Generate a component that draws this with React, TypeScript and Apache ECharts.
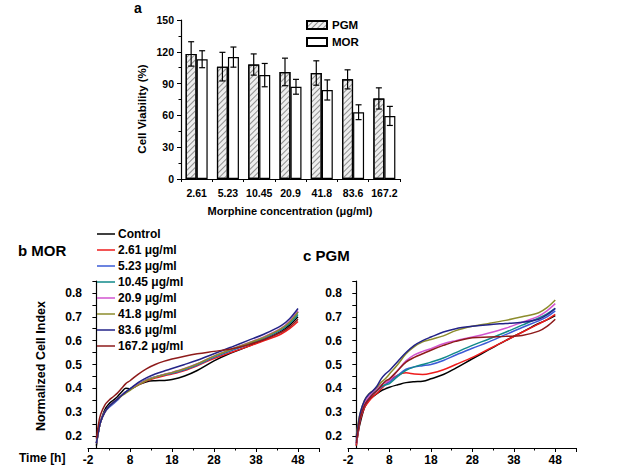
import React, { useEffect, useRef } from "react";
import * as echarts from "echarts";

// ---- Panel a data ----
const CONC = ["2.61", "5.23", "10.45", "20.9", "41.8", "83.6", "167.2"];
const PGM_VAL = [118, 106, 108, 101, 100, 94, 76];
const PGM_ERR = [11.5, 13.5, 10, 13, 11.5, 9, 10];
const MOR_VAL = [113, 115, 98, 87, 84, 63, 59.5];
const MOR_ERR = [8, 9.5, 11, 7, 9.5, 7, 9];
const BAR_TICKS = [0, 30, 60, 90, 120, 150];

// ---- Panels b, c data ----
const T = [0, 0.5, 1, 2, 3, 4, 5, 6, 7, 8, 10, 12, 14, 16, 18, 21, 24, 28, 32, 36, 40, 44, 46, 48];
const NAMES = ["Control", "2.61 μg/ml", "5.23 μg/ml", "10.45 μg/ml", "20.9 μg/ml", "41.8 μg/ml", "83.6 μg/ml", "167.2 μg/ml"];
const COLORS = ["#000000", "#ee1c1c", "#3b5bd6", "#118a8a", "#d255cf", "#8c8c2c", "#232388", "#8e1b1b"];

const MOR_CONTROL = [0.16, 0.22, 0.26, 0.31, 0.335, 0.35, 0.365, 0.385, 0.4, 0.398, 0.415, 0.428, 0.432, 0.433, 0.437, 0.452, 0.475, 0.515, 0.548, 0.575, 0.605, 0.64, 0.665, 0.7];
const MOR_261 = [0.17, 0.22, 0.26, 0.3, 0.325, 0.34, 0.355, 0.37, 0.385, 0.395, 0.415, 0.432, 0.443, 0.452, 0.46, 0.475, 0.495, 0.525, 0.55, 0.575, 0.6, 0.628, 0.65, 0.68];
const MOR_523 = [0.17, 0.22, 0.26, 0.3, 0.32, 0.335, 0.35, 0.37, 0.385, 0.395, 0.418, 0.435, 0.447, 0.456, 0.463, 0.478, 0.498, 0.53, 0.557, 0.583, 0.61, 0.645, 0.675, 0.72];
const MOR_1045 = [0.17, 0.22, 0.26, 0.3, 0.325, 0.34, 0.355, 0.37, 0.385, 0.398, 0.42, 0.437, 0.448, 0.457, 0.465, 0.48, 0.5, 0.532, 0.56, 0.585, 0.612, 0.645, 0.672, 0.71];
const MOR_209 = [0.17, 0.22, 0.26, 0.3, 0.325, 0.34, 0.355, 0.37, 0.383, 0.395, 0.418, 0.436, 0.448, 0.458, 0.467, 0.483, 0.503, 0.535, 0.563, 0.59, 0.617, 0.652, 0.682, 0.725];
const MOR_418 = [0.17, 0.22, 0.26, 0.3, 0.325, 0.34, 0.355, 0.368, 0.38, 0.392, 0.415, 0.434, 0.447, 0.457, 0.466, 0.482, 0.502, 0.535, 0.563, 0.588, 0.615, 0.65, 0.678, 0.72];
const MOR_836 = [0.17, 0.22, 0.26, 0.3, 0.325, 0.34, 0.355, 0.37, 0.385, 0.398, 0.425, 0.445, 0.46, 0.472, 0.483, 0.5, 0.518, 0.545, 0.572, 0.6, 0.628, 0.663, 0.692, 0.735];
const MOR_1672 = [0.19, 0.25, 0.29, 0.33, 0.35, 0.365, 0.38, 0.4, 0.42, 0.432, 0.46, 0.483, 0.5, 0.513, 0.523, 0.535, 0.545, 0.555, 0.565, 0.582, 0.605, 0.635, 0.658, 0.69];

const PGM_CONTROL = [0.16, 0.22, 0.26, 0.32, 0.35, 0.365, 0.378, 0.39, 0.398, 0.405, 0.415, 0.424, 0.428, 0.43, 0.44, 0.458, 0.485, 0.524, 0.562, 0.6, 0.636, 0.672, 0.687, 0.705];
const PGM_261 = [0.16, 0.22, 0.27, 0.32, 0.345, 0.365, 0.38, 0.398, 0.415, 0.432, 0.455, 0.465, 0.46, 0.458, 0.463, 0.478, 0.5, 0.53, 0.565, 0.6, 0.635, 0.67, 0.688, 0.71];
const PGM_523 = [0.17, 0.23, 0.28, 0.33, 0.355, 0.375, 0.39, 0.405, 0.415, 0.427, 0.455, 0.48, 0.49, 0.495, 0.5, 0.517, 0.54, 0.568, 0.595, 0.625, 0.655, 0.683, 0.7, 0.725];
const PGM_1045 = [0.18, 0.24, 0.29, 0.34, 0.36, 0.38, 0.395, 0.408, 0.415, 0.42, 0.45, 0.475, 0.49, 0.5, 0.51, 0.527, 0.55, 0.58, 0.607, 0.635, 0.665, 0.695, 0.712, 0.735];
const PGM_209 = [0.17, 0.24, 0.29, 0.34, 0.365, 0.385, 0.4, 0.415, 0.425, 0.433, 0.475, 0.515, 0.54, 0.555, 0.566, 0.587, 0.6, 0.615, 0.632, 0.652, 0.677, 0.703, 0.725, 0.755];
const PGM_418 = [0.2, 0.26, 0.3, 0.35, 0.375, 0.39, 0.405, 0.425, 0.44, 0.46, 0.5, 0.545, 0.575, 0.595, 0.605, 0.62, 0.642, 0.66, 0.672, 0.685, 0.7, 0.717, 0.738, 0.77];
const PGM_836 = [0.19, 0.25, 0.3, 0.35, 0.375, 0.39, 0.41, 0.44, 0.46, 0.475, 0.513, 0.55, 0.58, 0.6, 0.615, 0.636, 0.65, 0.66, 0.667, 0.672, 0.677, 0.69, 0.708, 0.735];
const PGM_1672 = [0.17, 0.23, 0.28, 0.33, 0.355, 0.375, 0.39, 0.41, 0.43, 0.44, 0.475, 0.51, 0.53, 0.545, 0.56, 0.58, 0.597, 0.612, 0.615, 0.618, 0.622, 0.64, 0.66, 0.69];

const MOR_LINES = [MOR_CONTROL, MOR_261, MOR_523, MOR_1045, MOR_209, MOR_418, MOR_836, MOR_1672];
const PGM_LINES = [PGM_CONTROL, PGM_261, PGM_523, PGM_1045, PGM_209, PGM_418, PGM_836, PGM_1672];

const FONT = "Liberation Sans";
const BAR_W = 11;

export default function App() {
  const ref = useRef<HTMLDivElement>(null);
  useEffect(() => {
    if (!ref.current) return;
    const chart = echarts.init(ref.current, undefined, { renderer: "svg" });

    const axisLine = { show: true, lineStyle: { color: "#000", width: 1.2 } };
    const tickStyle = { show: true, length: 4, lineStyle: { color: "#000", width: 1 } };
    const minorTick = { show: true, splitNumber: 2, length: 2.5, lineStyle: { color: "#000", width: 1 } };

    const lineX = (idx: number) => ({
      type: "value",
      gridIndex: idx,
      min: -2,
      max: 53,
      interval: 10,
      axisLine,
      axisTick: tickStyle,
      minorTick,
      splitLine: { show: false },
      axisLabel: {
        margin: 6,
        color: "#000",
        fontFamily: FONT,
        fontWeight: "bold",
        fontSize: 12,
        formatter: (v: number) => (v > 50 ? "" : String(v)),
      },
    });
    const lineY = (idx: number) => ({
      type: "value",
      gridIndex: idx,
      min: 0.15,
      max: 0.85,
      interval: 0.05,
      axisLine,
      axisTick: tickStyle,
      splitLine: { show: false },
      axisLabel: {
        margin: 6,
        color: "#000",
        fontFamily: FONT,
        fontWeight: "bold",
        fontSize: 12,
        formatter: (v: number) => {
          const r = Math.round(v * 100);
          return r % 10 === 0 ? (r / 100).toFixed(1) : "";
        },
      },
    });

    const errSeries = (vals: number[], errs: number[], offset: number) => ({
      type: "custom",
      xAxisIndex: 0,
      yAxisIndex: 0,
      z: 10,
      silent: true,
      data: vals.map((v, i) => [i, v, errs[i]]),
      renderItem: (params: any, api: any) => {
        const i = api.value(0);
        const m = api.value(1);
        const e = api.value(2);
        const c = api.coord([i, m]);
        const x = c[0] + offset;
        const yt = api.coord([i, m + e])[1];
        const yb = api.coord([i, m - e])[1];
        const st = { stroke: "#000", lineWidth: 1.2 };
        return {
          type: "group",
          children: [
            { type: "line", shape: { x1: x, y1: yt, x2: x, y2: yb }, style: st },
            { type: "line", shape: { x1: x - 3, y1: yt, x2: x + 3, y2: yt }, style: st },
            { type: "line", shape: { x1: x - 3, y1: yb, x2: x + 3, y2: yb }, style: st },
          ],
        };
      },
    });

    const lineSeries = (lines: number[][], axis: number) =>
      lines.map((vals, k) => ({
        type: "line",
        name: NAMES[k],
        xAxisIndex: axis,
        yAxisIndex: axis,
        smooth: 0.35,
        symbol: "none",
        lineStyle: { color: COLORS[k], width: 1.5 },
        itemStyle: { color: COLORS[k] },
        data: T.map((t, i) => [t, vals[i]]),
      }));

    const hatch = {
      symbol: "rect",
      symbolSize: 1,
      dashArrayX: [1, 0],
      dashArrayY: [1, 2.5],
      rotation: -Math.PI / 4,
      color: "rgba(120,120,120,0.8)",
    };

    const option: any = {
      animation: false,
      backgroundColor: "#fff",
      textStyle: { fontFamily: FONT },
      grid: [
        { left: 181, right: 217, top: 20, bottom: 293 },
        { left: 88, right: 298, top: 281, bottom: 24 },
        { left: 348, right: 41, top: 281, bottom: 24 },
      ],
      legend: [
        {
          data: ["PGM", "MOR"],
          orient: "vertical",
          left: 306,
          top: 19,
          padding: 0,
          itemWidth: 20,
          itemHeight: 8,
          itemGap: 5,
          icon: "rect",
          textStyle: { fontFamily: FONT, fontWeight: "bold", fontSize: 11.5, color: "#000" },
        },
        {
          data: NAMES,
          orient: "vertical",
          left: 97,
          top: 228,
          padding: 0,
          itemWidth: 18,
          itemHeight: 1.5,
          itemGap: 4,
          icon: "rect",
          textStyle: { fontFamily: FONT, fontWeight: "bold", fontSize: 12, color: "#000", padding: [0, 0, 0, -2] },
        },
      ],
      xAxis: [
        {
          type: "category",
          gridIndex: 0,
          data: CONC,
          axisLine,
          axisTick: { show: true, length: 3, lineStyle: { color: "#000" } },
          axisLabel: { interval: 0, margin: 8, color: "#000", fontFamily: FONT, fontWeight: "bold", fontSize: 10.5 },
        },
        lineX(1),
        lineX(2),
      ],
      yAxis: [
        {
          type: "value",
          gridIndex: 0,
          min: BAR_TICKS[0],
          max: BAR_TICKS[BAR_TICKS.length - 1],
          interval: BAR_TICKS[1] - BAR_TICKS[0],
          axisLine,
          axisTick: tickStyle,
          minorTick,
          splitLine: { show: false },
          axisLabel: { margin: 7, color: "#000", fontFamily: FONT, fontWeight: "bold", fontSize: 10.5 },
        },
        lineY(1),
        lineY(2),
      ],
      series: [
        {
          type: "bar",
          name: "PGM",
          xAxisIndex: 0,
          yAxisIndex: 0,
          barWidth: BAR_W,
          barGap: "0%",
          data: PGM_VAL,
          itemStyle: { color: "#eeeeee", borderColor: "#000", borderWidth: 1.2, decal: hatch },
        },
        {
          type: "bar",
          name: "MOR",
          xAxisIndex: 0,
          yAxisIndex: 0,
          barWidth: BAR_W,
          barGap: "0%",
          data: MOR_VAL,
          itemStyle: { color: "#ffffff", borderColor: "#000", borderWidth: 1.2 },
        },
        errSeries(PGM_VAL, PGM_ERR, -BAR_W / 2),
        errSeries(MOR_VAL, MOR_ERR, BAR_W / 2),
        ...lineSeries(MOR_LINES, 1),
        ...lineSeries(PGM_LINES, 2),
      ],
      graphic: [
        { type: "text", x: 138, y: 8, style: { text: "a", font: `bold 14px "${FONT}"`, align: "center", verticalAlign: "middle", fill: "#000" } },
        { type: "text", x: 18, y: 250, style: { text: "b MOR", font: `bold 15px "${FONT}"`, align: "left", verticalAlign: "middle", fill: "#000" } },
        { type: "text", x: 303, y: 255, style: { text: "c PGM", font: `bold 15px "${FONT}"`, align: "left", verticalAlign: "middle", fill: "#000" } },
        { type: "text", x: 19, y: 458, style: { text: "Time [h]", font: `bold 12px "${FONT}"`, align: "left", verticalAlign: "middle", fill: "#000" } },
        { type: "text", x: 142, y: 109, rotation: Math.PI / 2, style: { text: "Cell Viability (%)", font: `bold 11.5px "${FONT}"`, align: "center", verticalAlign: "middle", fill: "#000" } },
        { type: "text", x: 290, y: 211, style: { text: "Morphine concentration (μg/ml)", font: `bold 11px "${FONT}"`, align: "center", verticalAlign: "middle", fill: "#000" } },
        { type: "text", x: 41, y: 366, rotation: Math.PI / 2, style: { text: "Normalized Cell Index", font: `bold 12.5px "${FONT}"`, align: "center", verticalAlign: "middle", fill: "#000" } },
      ],
    };

    chart.setOption(option);
    return () => chart.dispose();
  }, []);

  return <div ref={ref} style={{ position: "absolute", left: 0, top: 0, width: 617, height: 472 }} />;
}
